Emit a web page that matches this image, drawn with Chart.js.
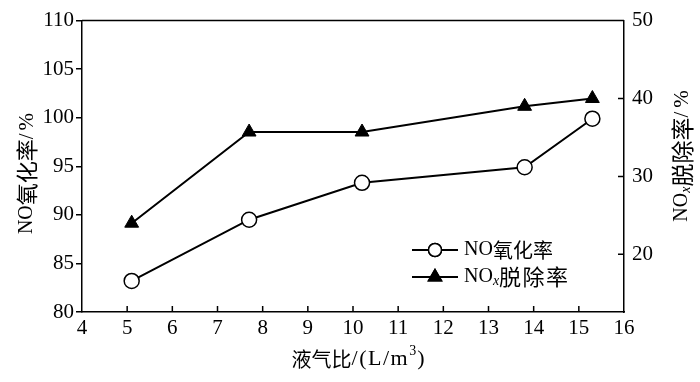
<!DOCTYPE html>
<html>
<head>
<meta charset="utf-8">
<script src="https://cdn.jsdelivr.net/npm/chart.js@4/dist/chart.umd.min.js"></script>
<style>
html,body{margin:0;padding:0;background:#fff;}
#wrap{width:700px;height:382px;}
</style>
</head>
<body>
<div id="wrap"><canvas id="c" width="700" height="382"></canvas></div>
<script>
// ---- data ----
const liquidGasRatio = [5.1, 7.7, 10.2, 13.8, 15.3];
const noOxidation = [83.2, 89.5, 93.3, 94.9, 99.9];
const noxRemoval = [24.0, 35.7, 35.7, 39.0, 40.0];
const xTickValues = [4,5,6,7,8,9,10,11,12,13,14,15,16];
const leftTickValues = [80,85,90,95,100,105,110];
const rightTickValues = [20,30,40,50];
const seriesNames = ['NO氧化率', 'NOx脱除率'];

const FONT = "'Liberation Serif','Times New Roman','Noto Sans CJK SC',serif";
const CJK = "'Noto Sans CJK SC',sans-serif";
const toPts = (xs, ys) => xs.map((v,i)=>({x:v, y:ys[i]}));

function segWidth(ctx, segs){
  let w=0;
  segs.forEach(s=>{
    ctx.font=(s.italic?'italic ':'')+s.size+'px '+(s.cjk?CJK:FONT);
    ctx.letterSpacing=(s.ls||0)+'px';
    w+=ctx.measureText(s.t).width;
  });
  ctx.letterSpacing='0px';
  return w;
}
function drawSegs(ctx, segs, x, y, align){
  const total=segWidth(ctx,segs);
  let sx = align==='center' ? x-total/2 : x;
  ctx.textAlign='left'; ctx.textBaseline='middle';
  segs.forEach(s=>{
    ctx.font=(s.italic?'italic ':'')+s.size+'px '+(s.cjk?CJK:FONT);
    ctx.letterSpacing=(s.ls||0)+'px';
    ctx.fillText(s.t, sx, y+(s.dy||0));
    sx+=ctx.measureText(s.t).width;
  });
  ctx.letterSpacing='0px';
}

const leftTitle = [{t:'NO',size:20},{t:'氧化率',size:22,cjk:true},{t:'/%',size:21,ls:3}];
const rightTitle = [{t:'NO',size:20},{t:'x',size:14,italic:true,dy:4},{t:'脱除率',size:23,cjk:true},{t:'/%',size:21,ls:4}];
const bottomTitle = [{t:'液气比',size:20,cjk:true},{t:'/(L/m',size:22,ls:1.5},{t:'3',size:14,dy:-8,ls:1},{t:')',size:22}];
const legendRows = [
  {y:250, style:'circle', fill:'#fff', r:6.5, segs:[{t:'NO',size:20},{t:'氧化率',size:20,cjk:true}]},
  {y:277, style:'triangle', fill:'#000', r:7.5, segs:[{t:'NO',size:20},{t:'x',size:14,italic:true,dy:4},{t:'脱除率',size:22,cjk:true,ls:1.5}]}
];

const deco = {
  id:'deco',
  afterDraw(chart){
    const {ctx, chartArea:{left,right,top,bottom}, scales:{x,y,y2}} = chart;
    ctx.save();
    ctx.strokeStyle='#000'; ctx.fillStyle='#000'; ctx.lineWidth=1.5;
    ctx.beginPath();
    ctx.moveTo(left,top); ctx.lineTo(right,top);
    xTickValues.forEach(v=>{
      if(v===xTickValues[0]||v===xTickValues[xTickValues.length-1]) return;
      const px=x.getPixelForValue(v);
      ctx.moveTo(px,bottom); ctx.lineTo(px,bottom-6);
    });
    rightTickValues.forEach(v=>{
      const py=y2.getPixelForValue(v);
      ctx.moveTo(right,py); ctx.lineTo(right-6,py);
    });
    ctx.stroke();

    ctx.save(); ctx.translate(27,172); ctx.rotate(-Math.PI/2);
    drawSegs(ctx,leftTitle,0,0,'center'); ctx.restore();

    ctx.save(); ctx.translate(682,154); ctx.rotate(-Math.PI/2);
    drawSegs(ctx,rightTitle,0,0,'center'); ctx.restore();

    drawSegs(ctx,bottomTitle,358,359,'center');

    legendRows.forEach(r=>{
      ctx.lineWidth=2;
      ctx.beginPath(); ctx.moveTo(412,r.y); ctx.lineTo(458,r.y); ctx.stroke();
      ctx.lineWidth=1.5;
      ctx.fillStyle=r.fill;
      Chart.helpers.drawPoint(ctx,{pointStyle:r.style, radius:r.r, borderWidth:1.5, rotation:0}, 435, r.y);
      ctx.fill(); ctx.stroke();
      ctx.fillStyle='#000';
      drawSegs(ctx,r.segs,464,r.y,'left');
    });
    ctx.restore();
  }
};

new Chart(document.getElementById('c'), {
  type:'scatter',
  data:{
    datasets:[
      {label:seriesNames[0], data:toPts(liquidGasRatio,noOxidation), yAxisID:'y', showLine:true,
       borderColor:'#000', borderWidth:2, pointStyle:'circle', pointRadius:7.5, pointBorderWidth:1.5,
       pointBackgroundColor:'#fff', pointBorderColor:'#000'},
      {label:seriesNames[1], data:toPts(liquidGasRatio,noxRemoval), yAxisID:'y2', showLine:true,
       borderColor:'#000', borderWidth:2, pointStyle:'triangle', pointRadius:8, pointBorderWidth:1,
       pointBackgroundColor:'#000', pointBorderColor:'#000'}
    ]
  },
  options:{
    responsive:false, animation:false, devicePixelRatio:1,
    layout:{padding:{top:13,left:0,right:0,bottom:0}, autoPadding:false},
    plugins:{legend:{display:false}, tooltip:{enabled:false}},
    scales:{
      x:{type:'linear', min:4, max:16, position:'bottom',
         afterBuildTicks:s=>{s.ticks = xTickValues.map(v=>({value:v}));},
         afterFit:s=>{s.height=70;},
         grid:{display:false, drawTicks:false},
         border:{display:true,color:'#000',width:1.5},
         ticks:{color:'#000',font:{family:FONT,size:21},padding:4,maxRotation:0,autoSkip:false}},
      y:{type:'linear', min:80, max:110, position:'left',
         afterBuildTicks:s=>{s.ticks = leftTickValues.map(v=>({value:v}));},
         afterFit:s=>{s.width=82;},
         grid:{drawOnChartArea:false, drawTicks:true, tickLength:6, color:'#000', lineWidth:1.5},
         border:{display:true,color:'#000',width:1.5},
         ticks:{color:'#000',font:{family:FONT,size:21},padding:2}},
      y2:{type:'linear', min:12.6, max:50, position:'right',
         afterBuildTicks:s=>{s.ticks = rightTickValues.map(v=>({value:v}));},
         afterFit:s=>{s.width=76;},
         grid:{display:false, drawTicks:false},
         border:{display:true,color:'#000',width:1.5},
         ticks:{color:'#000',font:{family:FONT,size:21},padding:8}}
    }
  },
  plugins:[deco]
});
</script>
</body>
</html>
